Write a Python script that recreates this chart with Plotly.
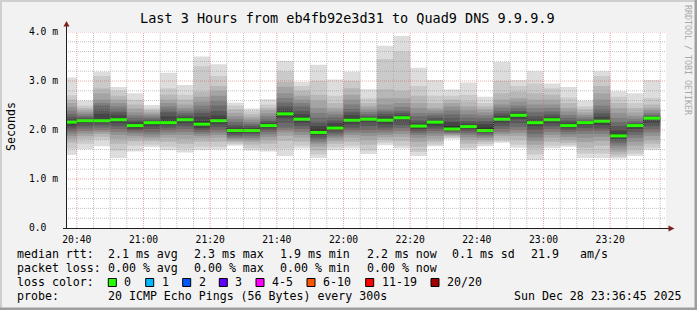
import plotly.graph_objects as go
import pandas as pd

# ---------------- data ----------------
bar_end = pd.date_range("2025-12-28 20:40", "2025-12-28 23:35", freq="5min")

median_ms = [2.16, 2.19, 2.19, 2.21, 2.09, 2.15, 2.15, 2.21, 2.12, 2.19,
             1.99, 1.99, 2.09, 2.33, 2.22, 1.95, 2.04, 2.20, 2.22, 2.20,
             2.25, 2.08, 2.16, 2.02, 2.07, 1.99, 2.22, 2.30, 2.15, 2.21,
             2.09, 2.15, 2.18, 1.88, 2.09, 2.24]

# 20 sorted ping rtts (ms) per 5-minute step
pings_ms = [
    [1.49,1.62,1.74,1.82,1.88,1.93,1.98,2.03,2.08,2.14,2.18,2.22,2.27,2.33,2.40,2.47,2.55,2.62,2.71,3.07],
    [1.61,1.72,1.82,1.88,1.93,1.98,2.03,2.08,2.14,2.18,2.20,2.22,2.25,2.28,2.32,2.36,2.40,2.45,2.50,2.60],
    [1.67,1.80,1.86,1.92,1.96,2.00,2.05,2.10,2.15,2.19,2.22,2.33,2.42,2.50,2.55,2.62,2.75,2.85,3.10,3.19],
    [1.43,1.58,1.72,1.82,1.90,1.96,2.02,2.08,2.14,2.20,2.24,2.30,2.36,2.42,2.48,2.55,2.62,2.70,2.80,2.88],
    [1.56,1.68,1.77,1.83,1.88,1.93,1.97,2.00,2.03,2.07,2.12,2.16,2.20,2.25,2.30,2.36,2.44,2.52,2.62,2.75],
    [1.65,1.70,1.77,1.82,1.86,1.91,1.96,2.02,2.08,2.13,2.17,2.19,2.21,2.24,2.28,2.32,2.36,2.40,2.44,2.51],
    [1.59,1.66,1.76,1.84,1.90,1.95,2.00,2.05,2.10,2.15,2.19,2.28,2.36,2.42,2.48,2.55,2.62,2.72,2.85,3.17],
    [1.54,1.62,1.72,1.82,1.90,1.96,2.02,2.08,2.14,2.20,2.23,2.26,2.30,2.35,2.40,2.45,2.52,2.62,2.72,2.92],
    [1.59,1.66,1.76,1.83,1.88,1.92,1.96,2.00,2.04,2.10,2.18,2.27,2.35,2.42,2.50,2.58,2.68,2.78,3.30,3.50],
    [1.60,1.66,1.76,1.84,1.90,1.95,2.00,2.06,2.12,2.18,2.23,2.30,2.40,2.50,2.60,2.70,2.80,2.90,3.10,3.34],
    [1.68,1.71,1.75,1.78,1.81,1.84,1.87,1.90,1.94,1.98,2.01,2.05,2.10,2.16,2.22,2.28,2.35,2.42,2.50,2.56],
    [1.58,1.63,1.70,1.76,1.80,1.84,1.88,1.92,1.95,1.98,2.01,2.04,2.08,2.12,2.16,2.21,2.26,2.32,2.38,2.44],
    [1.56,1.62,1.72,1.80,1.86,1.91,1.96,2.00,2.04,2.08,2.11,2.14,2.18,2.22,2.28,2.34,2.40,2.45,2.52,2.63],
    [1.47,1.62,1.78,1.88,1.95,2.00,2.05,2.15,2.25,2.32,2.36,2.42,2.48,2.56,2.65,2.75,2.88,2.98,3.20,3.41],
    [1.62,1.68,1.76,1.84,1.90,1.96,2.02,2.08,2.15,2.21,2.25,2.32,2.40,2.48,2.55,2.62,2.70,2.80,2.90,2.98],
    [1.43,1.50,1.58,1.66,1.72,1.76,1.80,1.85,1.90,1.94,2.02,2.08,2.15,2.25,2.35,2.45,2.60,2.72,3.00,3.33],
    [1.59,1.65,1.72,1.78,1.83,1.87,1.91,1.95,1.99,2.03,2.08,2.14,2.20,2.26,2.32,2.38,2.45,2.55,2.70,3.03],
    [1.62,1.68,1.76,1.84,1.90,1.95,2.00,2.05,2.12,2.19,2.24,2.30,2.36,2.43,2.52,2.62,2.72,2.85,3.00,3.19],
    [1.51,1.58,1.70,1.80,1.88,1.94,2.00,2.08,2.16,2.21,2.23,2.25,2.28,2.32,2.37,2.42,2.48,2.55,2.65,2.83],
    [1.69,1.74,1.80,1.85,1.90,1.95,2.00,2.05,2.12,2.19,2.23,2.28,2.33,2.38,2.42,2.52,2.65,2.83,3.45,3.72],
    [1.62,1.68,1.78,1.86,1.92,1.98,2.04,2.10,2.18,2.24,2.27,2.30,2.35,2.40,2.47,2.55,2.65,2.80,3.60,3.92],
    [1.47,1.55,1.66,1.76,1.84,1.90,1.94,1.98,2.02,2.07,2.10,2.14,2.20,2.28,2.35,2.45,2.55,2.70,2.90,3.27],
    [1.67,1.70,1.76,1.82,1.88,1.93,1.98,2.03,2.08,2.14,2.18,2.21,2.25,2.30,2.35,2.40,2.45,2.55,2.70,3.02],
    [1.82,1.84,1.87,1.89,1.91,1.93,1.95,1.97,1.99,2.02,2.08,2.16,2.24,2.32,2.40,2.48,2.55,2.62,2.70,2.83],
    [1.59,1.64,1.72,1.80,1.85,1.90,1.94,1.98,2.02,2.06,2.09,2.13,2.18,2.25,2.32,2.40,2.48,2.58,2.72,2.97],
    [1.67,1.71,1.76,1.80,1.84,1.87,1.90,1.93,1.96,1.99,2.05,2.12,2.18,2.24,2.30,2.36,2.42,2.48,2.55,2.68],
    [1.74,1.77,1.82,1.88,1.92,1.96,2.02,2.08,2.15,2.21,2.25,2.29,2.34,2.40,2.46,2.52,2.62,2.75,3.00,3.39],
    [1.64,1.70,1.80,1.88,1.94,2.00,2.06,2.14,2.22,2.29,2.32,2.35,2.39,2.44,2.50,2.58,2.65,2.78,2.90,3.02],
    [1.39,1.50,1.62,1.70,1.78,1.85,1.92,2.00,2.08,2.14,2.18,2.22,2.28,2.36,2.44,2.52,2.62,2.75,2.95,3.20],
    [1.63,1.68,1.76,1.84,1.90,1.96,2.02,2.08,2.14,2.20,2.23,2.27,2.32,2.38,2.45,2.52,2.62,2.72,2.85,2.95],
    [1.66,1.69,1.74,1.80,1.86,1.91,1.96,2.00,2.04,2.08,2.11,2.15,2.20,2.25,2.31,2.38,2.45,2.55,2.66,2.88],
    [1.43,1.52,1.64,1.75,1.84,1.92,1.98,2.04,2.10,2.14,2.16,2.17,2.19,2.22,2.26,2.31,2.36,2.42,2.48,2.60],
    [1.43,1.52,1.68,1.78,1.86,1.92,1.98,2.03,2.10,2.17,2.21,2.27,2.34,2.42,2.50,2.62,2.75,2.90,3.10,3.20],
    [1.42,1.45,1.50,1.56,1.62,1.68,1.73,1.78,1.82,1.86,1.92,2.00,2.08,2.16,2.25,2.35,2.45,2.55,2.68,2.79],
    [1.47,1.52,1.60,1.68,1.76,1.84,1.90,1.96,2.02,2.07,2.09,2.11,2.14,2.18,2.23,2.29,2.36,2.45,2.55,2.75],
    [1.59,1.64,1.72,1.80,1.88,1.95,2.01,2.08,2.15,2.21,2.23,2.25,2.28,2.31,2.35,2.40,2.45,2.52,2.65,3.02],
]

y_tickvals = [0, 1, 2, 3, 4]
y_ticktext = ["0.0\u00a0\u00a0", "1.0 m", "2.0 m", "3.0 m", "4.0 m"]
loss_labels = ["0", "1", "2", "3", "4-5", "6-10", "11-19", "20/20"]
loss_colors = ["#26ff00", "#00b8ff", "#0059ff", "#5e00ff", "#ff00ff", "#ff5500", "#ff0000", "#a00000"]

# ---------------- geometry (pixels) ----------------
W, H = 697, 310
L, R, T, B = 66, 666, 32, 228
def px(x): return (x - L) / (R - L)
def py(y): return (B - y) / (B - T)

MONO = "DejaVu Sans Mono"
step = pd.Timedelta(minutes=5)
bar_start = bar_end - step
centers = bar_end - step / 2
x0 = pd.Timestamp("2025-12-28 20:36:45")
x1 = pd.Timestamp("2025-12-28 23:36:45")

fig = go.Figure()

# smoke bands
n = len(pings_ms[0])
half = n // 2
for k in range(half):
    c = int(190 / half * (half - (k + 1))) + 50
    lo = [row[k] for row in pings_ms]
    hi = [row[n - 1 - k] for row in pings_ms]
    fig.add_trace(go.Bar(
        x=centers, base=lo, y=[h - l for h, l in zip(hi, lo)],
        width=step.total_seconds() * 1000,
        marker=dict(color=f"rgb({c},{c},{c})", line=dict(width=0)),
        hoverinfo="skip", showlegend=False))

# median step (dark, dotted) and loss colored segments
sx = list(bar_start) + [bar_end[-1]]
sy = list(median_ms) + [median_ms[-1]]
fig.add_trace(go.Scatter(x=sx, y=sy, mode="lines", line=dict(shape="hv", color="#202020", width=1, dash="1px,1px"),
                         hoverinfo="skip", showlegend=False))
gx, gy = [], []
for s, e, m in zip(bar_start, bar_end, median_ms):
    gx += [s, e, None]
    gy += [m, m, None]
fig.add_trace(go.Scatter(x=gx, y=gy, mode="lines", line=dict(color=loss_colors[0], width=3),
                         connectgaps=False, hoverinfo="skip", showlegend=False))

shapes = []
# grid (drawn above, like rrdtool)
minor_col = "rgba(143,143,143,0.55)"
major_col = "rgba(222,79,79,0.5)"
t = pd.Timestamp("2025-12-28 20:40")
while t < x1:
    major = (t.minute % 20 == 0)
    shapes.append(dict(type="line", xref="x", yref="paper", x0=t, x1=t, y0=0, y1=1, layer="above",
                       line=dict(color=major_col if major else minor_col, width=1, dash="1px,1px")))
    t += step
for i in range(1, 21):
    v = i * 0.2
    major = (i % 5 == 0)
    shapes.append(dict(type="line", xref="paper", yref="y", x0=0, x1=1, y0=v, y1=v, layer="above",
                       line=dict(color=major_col if major else minor_col, width=1, dash="1px,1px")))

# axes lines + arrows
shapes.append(dict(type="line", xref="paper", yref="paper", x0=px(66.5), x1=px(66.5), y0=py(228), y1=py(25),
                   layer="above", line=dict(color="#1f1f1f", width=1)))
shapes.append(dict(type="line", xref="paper", yref="paper", x0=px(63), x1=px(669), y0=py(228.5), y1=py(228.5),
                   layer="above", line=dict(color="#1f1f1f", width=1)))
shapes.append(dict(type="path", xref="paper", yref="paper", layer="above",
                   path=f"M{px(66.5)},{py(21)} L{px(63.5)},{py(26.5)} L{px(69.5)},{py(26.5)} Z",
                   fillcolor="#801f1f", line=dict(width=0)))
shapes.append(dict(type="path", xref="paper", yref="paper", layer="above",
                   path=f"M{px(674.5)},{py(228.5)} L{px(668.5)},{py(225.5)} L{px(668.5)},{py(231.5)} Z",
                   fillcolor="#801f1f", line=dict(width=0)))

# frame shading
shapes.append(dict(type="rect", xref="paper", yref="paper", x0=px(0), x1=px(W), y0=py(0), y1=py(2),
                   fillcolor="#cfcfcf", line=dict(width=0), layer="below"))
shapes.append(dict(type="rect", xref="paper", yref="paper", x0=px(0), x1=px(2), y0=py(0), y1=py(H),
                   fillcolor="#cfcfcf", line=dict(width=0), layer="below"))
shapes.append(dict(type="rect", xref="paper", yref="paper", x0=px(0), x1=px(W), y0=py(H - 2.5), y1=py(H),
                   fillcolor="#9e9e9e", line=dict(width=0), layer="below"))
shapes.append(dict(type="rect", xref="paper", yref="paper", x0=px(W - 2.5), x1=px(W), y0=py(0), y1=py(H),
                   fillcolor="#9e9e9e", line=dict(width=0), layer="below"))

annotations = []
def text(x, y, s, size=11.6, xanchor="left", color="#000000", angle=0):
    annotations.append(dict(x=px(x), y=py(y), xref="paper", yref="paper", text=s, showarrow=False,
                            xanchor=xanchor, yanchor="middle", borderpad=0, textangle=angle,
                            font=dict(family=MONO, size=size, color=color)))

text(347.5, 18.5, "Last 3 Hours from eb4fb92e3d31 to Quad9 DNS 9.9.9.9", size=13.5, xanchor="center")
text(11, 127, "Seconds", size=11.6, xanchor="center", angle=-90)
text(688, 60, "RRDTOOL / TOBI OETIKER", size=8.3, xanchor="center", color="#a8a8a8", angle=90)

rows = [
    (254.3, [(16, "median rtt:"), (107, "2.1 ms avg"), (193, "2.3 ms max"), (279, "1.9 ms min"),
             (365.7, "2.2 ms now"), (451, "0.1 ms sd"), (530, "21.9"), (579.3, "am/s")]),
    (268.3, [(16, "packet loss:"), (107, "0.00 % avg"), (193, "0.00 % max"), (279, "0.00 % min"),
             (365.7, "0.00 % now")]),
    (282.3, [(16, "loss color:")]),
    (296.0, [(16, "probe:"), (107, "20 ICMP Echo Pings (56 Bytes) every 300s"),
             (513.3, "Sun Dec 28 23:36:45 2025")]),
]
for y, segs in rows:
    for x, s in segs:
        text(x, y, s)

box_x = [108.3, 145.7, 182.7, 219.3, 256, 307, 365.7, 431]
for bx, lab, col in zip(box_x, loss_labels, loss_colors):
    shapes.append(dict(type="rect", xref="paper", yref="paper", x0=px(bx), x1=px(bx + 8), y0=py(278.5), y1=py(286.5),
                       fillcolor=col, line=dict(color="#000000", width=1), layer="above"))
    text(bx + 15, 282.3, lab)

fig.update_layout(
    width=W, height=H,
    margin=dict(l=L, r=W - R, t=T, b=H - B, pad=0),
    paper_bgcolor="#f2f2f2", plot_bgcolor="#ffffff",
    barmode="overlay", showlegend=False,
    shapes=shapes, annotations=annotations,
    xaxis=dict(type="date", range=[x0, x1], tickformat="%H:%M", dtick=1200000,
               tick0="2025-12-28 20:40", showgrid=False, zeroline=False, showline=False,
               ticks="outside", ticklen=2, tickcolor="rgba(0,0,0,0)",
               tickfont=dict(family=MONO, size=9.7, color="#000000")),
    yaxis=dict(range=[0, 4], tickvals=y_tickvals, ticktext=y_ticktext, showgrid=False, zeroline=False,
               showline=False, ticks="outside", ticklen=5, tickcolor="rgba(0,0,0,0)",
               tickfont=dict(family=MONO, size=9.7, color="#000000")),
)

fig.write_html("out.html")
